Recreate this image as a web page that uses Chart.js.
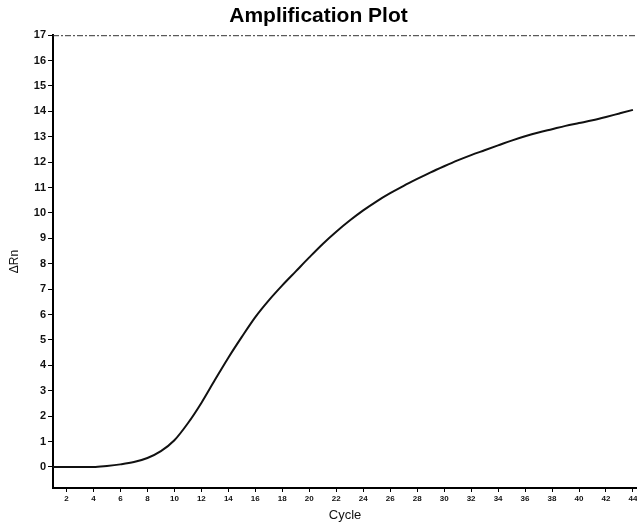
<!DOCTYPE html>
<html>
<head>
<meta charset="utf-8">
<script src="https://cdn.jsdelivr.net/npm/chart.js@4/dist/chart.umd.min.js"></script>
<style>
  html, body { margin: 0; padding: 0; background: #fff; }
  #wrap { width: 637px; height: 523px; }
</style>
</head>
<body>
<div id="wrap"><canvas id="ampChart" width="637" height="523"></canvas></div>
<script>
// cycles and delta Rn
const cycles = [1, 2, 3, 4, 5, 6, 7, 8, 9, 10, 11, 12, 13, 14, 15, 16, 17, 18, 19, 20, 21, 22,
  23, 24, 25, 26, 27, 28, 29, 30, 31, 32, 33, 34, 35, 36, 37, 38, 39, 40, 41, 42, 43, 44];
const deltaRn = [0.0, 0.0, 0.0, 0.0, 0.04, 0.1, 0.19, 0.35, 0.62, 1.05, 1.72, 2.52, 3.42, 4.3,
  5.12, 5.9, 6.56, 7.15, 7.7, 8.25, 8.78, 9.26, 9.7, 10.1, 10.46, 10.78, 11.07, 11.34,
  11.6, 11.84, 12.07, 12.28, 12.47, 12.66, 12.85, 13.02, 13.17, 13.3, 13.43, 13.54, 13.65,
  13.78, 13.92, 14.06];
const xTicks = [2, 4, 6, 8, 10, 12, 14, 16, 18, 20, 22, 24, 26, 28, 30, 32, 34, 36, 38, 40, 42, 44];
const yTicks = [0, 1, 2, 3, 4, 5, 6, 7, 8, 9, 10, 11, 12, 13, 14, 15, 16, 17];

// top frame line drawn as a thin dashed line, like the scan
const topFrame = {
  id: "topFrame",
  afterDraw(chart) {
    const a = chart.chartArea;
    const c = chart.ctx;
    c.save();
    c.strokeStyle = "#333";
    c.lineWidth = 1;
    c.setLineDash([6, 2, 2, 2]);
    c.beginPath();
    c.moveTo(a.left, a.top + 0.5);
    c.lineTo(a.right, a.top + 0.5);
    c.stroke();
    c.restore();
  }
};

const ctx = document.getElementById("ampChart").getContext("2d");

new Chart(ctx, {
  type: "line",
  data: {
    datasets: [{
      data: cycles.map((c, i) => ({ x: c, y: deltaRn[i] })),
      borderColor: "#111",
      borderWidth: 2,
      pointRadius: 0,
      fill: false,
      cubicInterpolationMode: "monotone"
    }]
  },
  options: {
    responsive: false,
    animation: false,
    layout: { padding: { left: 0, right: 0, top: 0, bottom: 0 } },
    plugins: {
      legend: { display: false },
      tooltip: { enabled: false },
      title: {
        display: true,
        text: "Amplification Plot",
        color: "#000",
        font: { family: "Liberation Sans, Arial, sans-serif", size: 21, weight: "bold" },
        padding: { top: 4, bottom: 6 }
      }
    },
    scales: {
      x: {
        type: "linear",
        min: 1,
        max: 44.3,
        afterBuildTicks(scale) { scale.ticks = xTicks.map(v => ({ value: v })); },
        afterFit(scale) { scale.height = 35; scale.paddingLeft = 0; scale.paddingRight = 0; },
        border: { color: "#000", width: 2 },
        grid: { drawOnChartArea: false, color: "#000", tickLength: 4 },
        ticks: {
          color: "#111",
          maxRotation: 0,
          autoSkip: false,
          padding: 2,
          font: { family: "Liberation Sans, Arial, sans-serif", size: 8, weight: "bold" }
        },
        title: {
          display: true,
          text: "Cycle",
          color: "#111",
          padding: { top: 0, bottom: 0 },
          font: { family: "Liberation Sans, Arial, sans-serif", size: 13 }
        }
      },
      y: {
        min: -0.83,
        max: 17,
        afterBuildTicks(scale) { scale.ticks = yTicks.map(v => ({ value: v })); },
        afterFit(scale) { scale.width = 53; },
        border: { color: "#000", width: 2 },
        grid: { drawOnChartArea: false, color: "#000", tickLength: 5 },
        ticks: {
          color: "#111",
          padding: 2,
          font: { family: "Liberation Sans, Arial, sans-serif", size: 11, weight: "bold" }
        },
        title: {
          display: true,
          text: "ΔRn",
          color: "#111",
          padding: { top: 7, bottom: 0 },
          font: { family: "Liberation Sans, Arial, sans-serif", size: 12 }
        }
      }
    }
  },
  plugins: [topFrame]
});
</script>
</body>
</html>
